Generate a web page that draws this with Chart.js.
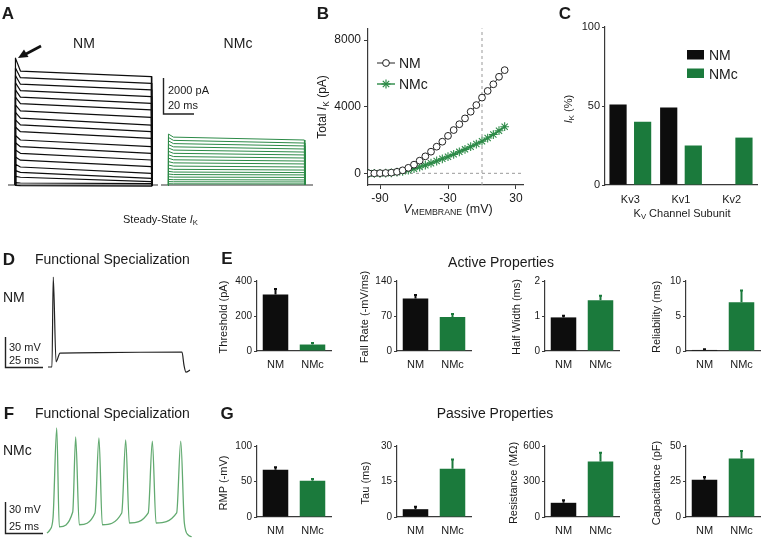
<!DOCTYPE html>
<html>
<head>
<meta charset="utf-8">
<script src="https://cdn.jsdelivr.net/npm/chart.js@4.4.0/dist/chart.umd.min.js"></script>
<style>
  body { margin:0; width:765px; height:543px; position:relative; background:#fff; overflow:hidden;
         font-family:"Liberation Sans", Arial, sans-serif; color:#1a1a1a; }
  canvas { position:absolute; }
  .t { position:absolute; white-space:nowrap; line-height:1; }
  .c { transform:translate(-50%,-50%); }
  .l { transform:translateY(-50%); }
  .r { transform:translate(-50%,-50%) rotate(-90deg); }
  .p { font-weight:bold; font-size:17px; }
  .s { font-size:0.7em; vertical-align:-0.3em; }
  svg { position:absolute; left:0; top:0; }
</style>
</head>
<body>
<!-- traces / charts -->
<canvas id="aNM"></canvas>
<canvas id="aNMc"></canvas>
<canvas id="ivChart"></canvas>
<canvas id="kvChart"></canvas>
<canvas id="apNM"></canvas>
<canvas id="apNMc"></canvas>
<canvas id="e1"></canvas><canvas id="e2"></canvas><canvas id="e3"></canvas><canvas id="e4"></canvas>
<canvas id="g1"></canvas><canvas id="g2"></canvas><canvas id="g3"></canvas><canvas id="g4"></canvas>

<svg width="765" height="543">
  <!-- arrow in A -->
  <line x1="41" y1="46" x2="25" y2="54.5" stroke="#111" stroke-width="2.6"/>
  <polygon points="18,58 24,49.5 28.5,57" fill="#111"/>
  <!-- scale bars -->
  <path d="M163.5 78 V114 H194" fill="none" stroke="#222" stroke-width="1.4"/>
  <path d="M5.5 337 V367.5 H43" fill="none" stroke="#222" stroke-width="1.4"/>
  <path d="M5.5 502 V533.5 H43" fill="none" stroke="#222" stroke-width="1.4"/>
  <!-- legend B -->
  <line x1="377" y1="63" x2="395" y2="63" stroke="#222" stroke-width="1"/>
  <circle cx="386" cy="63" r="3.4" fill="#fff" stroke="#222" stroke-width="1"/>
  <line x1="377" y1="84" x2="395" y2="84" stroke="#2c8a47" stroke-width="1.4"/>
  <g stroke="#2c8a47" stroke-width="1.2">
    <line x1="386" y1="79.5" x2="386" y2="88.5"/><line x1="381.5" y1="84" x2="390.5" y2="84"/>
    <line x1="382.8" y1="80.8" x2="389.2" y2="87.2"/><line x1="382.8" y1="87.2" x2="389.2" y2="80.8"/>
  </g>
  <!-- legend C -->
  <rect x="687" y="50" width="17" height="9.5" fill="#0d0d0d"/>
  <rect x="687" y="68.5" width="17" height="9.5" fill="#1b7a3c"/>
</svg>

<!-- A -->
<div class="t c p" style="left:8px;top:13px">A</div>
<div class="t c" style="left:84px;top:43px;font-size:14px">NM</div>
<div class="t c" style="left:238px;top:43px;font-size:14px">NMc</div>
<div class="t l" style="left:168px;top:90px;font-size:11px">2000 pA</div>
<div class="t l" style="left:168px;top:105px;font-size:11px">20 ms</div>
<div class="t l" style="left:123px;top:220px;font-size:11px">Steady-State <i>I</i><span class="s">K</span></div>
<!-- B -->
<div class="t c p" style="left:323px;top:13px">B</div>
<div class="t r" style="left:323px;top:107px;font-size:12px">Total <i>I</i><span class="s">K</span> (pA)</div>
<div class="t c" style="left:448px;top:210px;font-size:12.5px"><i>V</i><span class="s">MEMBRANE</span> (mV)</div>
<div class="t l" style="left:399px;top:63px;font-size:14px">NM</div>
<div class="t l" style="left:399px;top:84px;font-size:14px">NMc</div>
<!-- C -->
<div class="t c p" style="left:565px;top:13px">C</div>
<div class="t r" style="left:569px;top:109px;font-size:11px"><i>I</i><span class="s">K</span> (%)</div>
<div class="t c" style="left:682px;top:214px;font-size:11px">K<span class="s">V</span> Channel Subunit</div>
<div class="t l" style="left:709px;top:55px;font-size:14px">NM</div>
<div class="t l" style="left:709px;top:74px;font-size:14px">NMc</div>
<!-- D -->
<div class="t c p" style="left:9px;top:259px">D</div>
<div class="t l" style="left:35px;top:259px;font-size:14px">Functional Specialization</div>
<div class="t l" style="left:3px;top:297px;font-size:14px">NM</div>
<div class="t l" style="left:9px;top:347px;font-size:11px">30 mV</div>
<div class="t l" style="left:9px;top:360px;font-size:11px">25 ms</div>
<!-- E -->
<div class="t c p" style="left:227px;top:258px">E</div>
<div class="t c" style="left:501px;top:262px;font-size:14px">Active Properties</div>
<div class="t r" style="left:223px;top:317px;font-size:11px">Threshold (pA)</div>
<div class="t r" style="left:364px;top:317px;font-size:11px">Fall Rate (-mV/ms)</div>
<div class="t r" style="left:516px;top:317px;font-size:11px">Half Width (ms)</div>
<div class="t r" style="left:656px;top:317px;font-size:11px">Reliability (ms)</div>
<!-- F -->
<div class="t c p" style="left:9px;top:413px">F</div>
<div class="t l" style="left:35px;top:413px;font-size:14px">Functional Specialization</div>
<div class="t l" style="left:3px;top:450px;font-size:14px">NMc</div>
<div class="t l" style="left:9px;top:509px;font-size:11px">30 mV</div>
<div class="t l" style="left:9px;top:526px;font-size:11px">25 ms</div>
<!-- G -->
<div class="t c p" style="left:227px;top:413px">G</div>
<div class="t c" style="left:495px;top:413px;font-size:14px">Passive Properties</div>
<div class="t r" style="left:223px;top:483px;font-size:11px">RMP (-mV)</div>
<div class="t r" style="left:365px;top:483px;font-size:11px">Tau (ms)</div>
<div class="t r" style="left:513px;top:483px;font-size:11px">Resistance (MΩ)</div>
<div class="t r" style="left:656px;top:483px;font-size:11px">Capacitance (pF)</div>

<script>
// ---------- data ----------
// A: voltage-clamp steps, time (ms) from step onset, currents in pA
const stepTimesMs = [0, 0.3, 3.5, 88, 88.3];
const nmPeakPA = [7050, 6500, 6080, 5680, 5280, 4880, 4450, 4030, 3620, 3220, 2750, 2350, 1950, 1550, 1150, 800, 480, 130, -20];
const nmKneePA = [6330, 5960, 5600, 5240, 4880, 4520, 4120, 3720, 3340, 2960, 2500, 2130, 1760, 1380, 1000, 700, 430, 110, -40];
const nmEndPA  = [6020, 5650, 5280, 4910, 4540, 4170, 3760, 3330, 2960, 2590, 2130, 1760, 1390, 1020, 650, 370, 185, 80, -60];
const nmcPeakPA = [2830, 2640, 2450, 2250, 2060, 1870, 1680, 1490, 1300, 1110, 920, 760, 610, 460, 310, 190, 70];
const nmcKneePA = [2660, 2480, 2300, 2120, 1940, 1760, 1580, 1400, 1230, 1050, 870, 720, 580, 440, 295, 180, 65];
const nmcEndPA  = [2500, 2330, 2170, 2000, 1830, 1670, 1500, 1330, 1170, 1000, 830, 690, 560, 420, 280, 170, 60];

// B: I-V relation
const ivVoltage = [-100, -95, -90, -85, -80, -75, -70, -65, -60, -55, -50, -45, -40, -35, -30, -25, -20, -15, -10, -5, 0, 5, 10, 15, 20];
const ivNM  = [0, 0, 10, 20, 40, 90, 180, 330, 520, 760, 1020, 1300, 1600, 1900, 2250, 2600, 2950, 3300, 3700, 4100, 4550, 4950, 5350, 5800, 6200];
const ivNMc = [0, 0, 0, 10, 30, 70, 120, 190, 280, 380, 490, 610, 740, 870, 1000, 1140, 1290, 1440, 1600, 1760, 1930, 2120, 2330, 2560, 2800];
const ivTicksX = [-90, -30, 30];
const ivTicksY = [0, 4000, 8000];

// C: Kv subunit contribution (%)
const kvSubunits = ['Kv3', 'Kv1', 'Kv2'];
const kvNM  = [51, 49, 0];
const kvNMc = [40, 25, 30];
const kvTicks = [0, 50, 100];

// D / F: current-clamp responses (ms, mV)
const apNMTime = [0, 3.1, 4.1, 6.3, 9.4, 40, 104.7, 106.2, 107.8, 110.9];
const apNMV    = [-65, -65, 22, -60, -51.5, -51, -50.5, -63, -70, -68];
const apNMcTime = [0, 2.3, 4.7, 7.6, 9.6, 20.1, 22.4, 25.2, 37.5, 40.6, 43.2, 58.4, 61.5, 64.3, 79.1, 82.3, 85.2, 101.3, 104.5, 107.3, 110.4, 113];
const apNMcV    = [-65, -62, -50.5, 36.6, -59, -44.7, 28, -57, -45.6, 27, -57, -45.6, 25, -55.3, -45.6, 24, -55.3, -45.6, 24, -55.3, -67, -68.5];

// E: active properties (mean, SEM) for NM, NMc
const groups = ['NM', 'NMc'];
const thresholdMean = [323, 37],   thresholdSem = [32, 9],      thresholdTicks = [0, 200, 400];
const fallRateMean  = [105, 68],   fallRateSem  = [7, 6],       fallRateTicks  = [0, 70, 140];
const halfWidthMean = [0.96, 1.45], halfWidthSem = [0.05, 0.13], halfWidthTicks = [0, 1, 2];
const reliabMean    = [0.15, 6.95], reliabSem    = [0.1, 1.7],   reliabTicks    = [0, 5, 10];
// G: passive properties
const rmpMean  = [66.5, 51], rmpSem  = [3.5, 2.5], rmpTicks  = [0, 50, 100];
const tauMean  = [3.3, 20.4], tauSem = [1, 3.9],   tauTicks  = [0, 15, 30];
const resMean  = [120, 470], resSem  = [22, 72],   resTicks  = [0, 300, 600];
const capMean  = [26.2, 41.2], capSem = [1.9, 5.2], capTicks = [0, 25, 50];

// ---------- styling ----------
const BLACK = '#0d0d0d', GREEN = '#1b7a3c', TRACE_GREEN = '#2c8a47', AP_GREEN = '#62aa70', AX = '#3a3a3a';
Chart.defaults.font.family = '"Liberation Sans", Arial, sans-serif';
Chart.defaults.color = '#1a1a1a';

function place(cv, l, t, w, h) {
  cv.width = w; cv.height = h;
  cv.style.left = l + 'px'; cv.style.top = t + 'px';
}

// trace chart: canvas = plot area, axis limits come from pixel calibration
function traceChart(id, l, t, w, h, cal, datasets) {
  const cv = document.getElementById(id);
  place(cv, l, t, w, h);
  const xmin = (l - cal.x0) / cal.px, xmax = (l + w - cal.x0) / cal.px;
  const ymax = cal.v0 + (cal.y0 - t) / cal.py, ymin = cal.v0 - (t + h - cal.y0) / cal.py;
  new Chart(cv, {
    type: 'line',
    data: { datasets },
    options: {
      responsive: false, animation: false, devicePixelRatio: 1,
      layout: { padding: 0 },
      plugins: { legend: { display: false }, tooltip: { enabled: false } },
      elements: { point: { radius: 0 } },
      scales: {
        x: { type: 'linear', display: false, min: xmin, max: xmax },
        y: { type: 'linear', display: false, min: ymin, max: ymax }
      }
    }
  });
}

function stepTrace(peak, knee, end, color, w) {
  const vals = [0, peak, knee, end, 0];
  return { data: stepTimesMs.map((t, k) => ({ x: t, y: vals[k] })), borderColor: color, borderWidth: w,
           tension: 0, borderJoinStyle: 'round', fill: false };
}

// A: NM traces
const aCal = { x0: 15, px: 1.55, y0: 185, v0: 0, py: 36 / 2000 };
(function () {
  const ds = nmEndPA.map((e, i) => stepTrace(nmPeakPA[i], nmKneePA[i], e, BLACK, 1.2));
  const l = 8, w = 150, xmin = (l - aCal.x0) / aCal.px, xmax = (l + w - aCal.x0) / aCal.px;
  ds.push({ data: [{ x: xmin, y: 0 }, { x: xmax, y: 0 }], borderColor: '#333', borderWidth: 1.2 });
  traceChart('aNM', l, 50, w, 142, aCal, ds);
})();
// A: NMc traces
(function () {
  const cal = Object.assign({}, aCal, { x0: 168 });
  const ds = nmcEndPA.map((e, i) => stepTrace(nmcPeakPA[i], nmcKneePA[i], e, TRACE_GREEN, 1));
  const l = 161, w = 152, xmin = (l - cal.x0) / cal.px, xmax = (l + w - cal.x0) / cal.px;
  ds.push({ data: [{ x: xmin, y: 0 }, { x: xmax, y: 0 }], borderColor: '#333', borderWidth: 1.2 });
  traceChart('aNMc', l, 50, w, 142, cal, ds);
})();

// D / F
traceChart('apNM', 44, 268, 152, 110, { x0: 48, px: 1.28, y0: 367, v0: -65, py: 31 / 30 }, [{
  data: apNMTime.map((t, i) => ({ x: t, y: apNMV[i] })), borderColor: '#222', borderWidth: 1.2,
  cubicInterpolationMode: 'monotone'
}]);
traceChart('apNMc', 44, 418, 152, 125, { x0: 47, px: 1.28, y0: 533, v0: -65, py: 31 / 30 }, [{
  data: apNMcTime.map((t, i) => ({ x: t, y: apNMcV[i] })), borderColor: AP_GREEN, borderWidth: 1.3,
  cubicInterpolationMode: 'monotone'
}]);

// B: I-V
(function () {
  const plot = { l: 368, r: 523, t: 28, b: 185 };
  const padL = 45, padR = 12, padT = 10, padB = 24;
  const cv = document.getElementById('ivChart');
  place(cv, plot.l - padL, plot.t - padT, plot.r - plot.l + padL + padR, plot.b - plot.t + padT + padB);
  const pxPerMV = 136 / 120, xmin = -90 - 12 / pxPerMV, xmax = 30 + 7 / pxPerMV;
  const pxPerPA = 66.67 / 4000, ymin = -(185 - 173.3) / pxPerPA, ymax = 8000 + (40 - 28) / pxPerPA;
  const zeroV = 0, zeroI = 0;
  new Chart(cv, {
    type: 'line',
    data: {
      datasets: [
        { data: ivVoltage.map((v, i) => ({ x: v, y: ivNM[i] })), borderColor: '#222', borderWidth: 1,
          pointRadius: 3.4, pointBackgroundColor: '#fff', pointBorderColor: '#222', pointBorderWidth: 1 },
        { data: ivVoltage.map((v, i) => ({ x: v, y: ivNMc[i] })), borderColor: TRACE_GREEN, borderWidth: 1.5,
          pointStyle: 'star', pointRadius: 4.4, pointBorderColor: TRACE_GREEN, pointBorderWidth: 1.1 },
        { data: [{ x: zeroV, y: ymin }, { x: zeroV, y: ymax }], borderColor: '#9a9a9a', borderWidth: 1,
          borderDash: [3, 3], pointRadius: 0 },
        { data: [{ x: xmin, y: zeroI }, { x: xmax, y: zeroI }], borderColor: '#9a9a9a', borderWidth: 1,
          borderDash: [3, 3], pointRadius: 0 }
      ]
    },
    options: {
      responsive: false, animation: false, devicePixelRatio: 1,
      layout: { padding: { top: padT, right: padR, left: 0, bottom: 0 } },
      plugins: { legend: { display: false }, tooltip: { enabled: false } },
      scales: {
        x: { type: 'linear', min: xmin, max: xmax,
             afterBuildTicks: s => { s.ticks = ivTicksX.map(v => ({ value: v })); },
             grid: { display: true, drawOnChartArea: false, tickLength: 4, color: AX, tickColor: AX },
             border: { color: AX, width: 1.2 },
             ticks: { padding: 2, font: { size: 12 }, callback: v => String(v) },
             afterFit: s => { s.height = padB; } },
        y: { type: 'linear', min: ymin, max: ymax,
             afterBuildTicks: s => { s.ticks = ivTicksY.map(v => ({ value: v })); },
             grid: { display: true, drawOnChartArea: false, tickLength: 4, color: AX, tickColor: AX },
             border: { color: AX, width: 1.2 },
             ticks: { padding: 3, font: { size: 12 }, callback: v => String(v) },
             afterFit: s => { s.width = padL; } }
      }
    }
  });
})();

// error bar plugin (mean + SEM, drawn through the y scale)
const errorBars = {
  id: 'errorBars',
  afterDatasetsDraw(chart) {
    const ctx = chart.ctx, y = chart.scales.y;
    chart.data.datasets.forEach((ds, i) => {
      if (!ds.errors) return;
      chart.getDatasetMeta(i).data.forEach((bar, j) => {
        const top = y.getPixelForValue(ds.data[j] + ds.errors[j]);
        const col = Array.isArray(ds.backgroundColor) ? ds.backgroundColor[j] : ds.backgroundColor;
        ctx.save();
        ctx.strokeStyle = col; ctx.lineWidth = 2;
        ctx.beginPath(); ctx.moveTo(bar.x, bar.y); ctx.lineTo(bar.x, top);
        ctx.moveTo(bar.x - 1.5, top); ctx.lineTo(bar.x + 1.5, top);
        ctx.stroke(); ctx.restore();
      });
    });
  }
};

function barChart(id, plot, labels, datasets, yTicks, o) {
  const padL = o.padL, padR = o.padR, padT = 10, padB = o.padB;
  const cv = document.getElementById(id);
  place(cv, plot.l - padL, plot.t - padT, plot.r - plot.l + padL + padR, plot.b - plot.t + padT + padB);
  new Chart(cv, {
    type: 'bar',
    data: { labels, datasets },
    plugins: [errorBars],
    options: {
      responsive: false, animation: false, devicePixelRatio: 1,
      layout: { padding: { top: padT, right: padR, left: 0, bottom: 0 } },
      plugins: { legend: { display: false }, tooltip: { enabled: false } },
      scales: {
        x: { grid: { display: true, drawOnChartArea: false, drawTicks: false, color: AX },
             border: { color: AX, width: 1.2 }, ticks: { padding: o.xPad, font: { size: o.xfs } },
             afterFit: s => { s.height = padB; } },
        y: { min: yTicks[0], max: yTicks[yTicks.length - 1],
             afterBuildTicks: s => { s.ticks = yTicks.map(v => ({ value: v })); },
             grid: { display: true, drawOnChartArea: false, tickLength: 3, color: AX, tickColor: AX },
             border: { color: AX, width: 1.2 }, ticks: { padding: 2, font: { size: o.yfs } },
             afterFit: s => { s.width = padL; } }
      }
    }
  });
}

// C
barChart('kvChart', { l: 605, r: 757, t: 27, b: 185 }, kvSubunits, [
  { data: kvNM, backgroundColor: BLACK, categoryPercentage: 0.97, barPercentage: 0.7 },
  { data: kvNMc, backgroundColor: GREEN, categoryPercentage: 0.97, barPercentage: 0.7 }
], kvTicks, { padL: 40, padR: 6, padB: 22, xPad: 8, xfs: 11, yfs: 11 });

// E and G
function propChart(id, left, top, bottom, mean, sem, ticks) {
  barChart(id, { l: left, r: left + 74, t: top, b: bottom }, groups, [
    { data: mean, errors: sem, backgroundColor: [BLACK, GREEN], categoryPercentage: 1, barPercentage: 0.69 }
  ], ticks, { padL: 34, padR: 3, padB: 22, xPad: 7, xfs: 11, yfs: 10 });
}
const colLeft = [257, 397, 545, 686];
propChart('e1', colLeft[0], 281, 351, thresholdMean, thresholdSem, thresholdTicks);
propChart('e2', colLeft[1], 281, 351, fallRateMean, fallRateSem, fallRateTicks);
propChart('e3', colLeft[2], 281, 351, halfWidthMean, halfWidthSem, halfWidthTicks);
propChart('e4', colLeft[3], 281, 351, reliabMean, reliabSem, reliabTicks);
propChart('g1', colLeft[0], 446, 517, rmpMean, rmpSem, rmpTicks);
propChart('g2', colLeft[1], 446, 517, tauMean, tauSem, tauTicks);
propChart('g3', colLeft[2], 446, 517, resMean, resSem, resTicks);
propChart('g4', colLeft[3], 446, 517, capMean, capSem, capTicks);
</script>
</body>
</html>
